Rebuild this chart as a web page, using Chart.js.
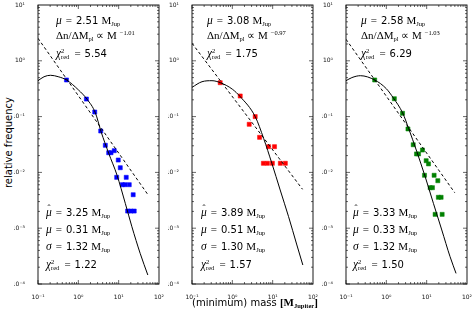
<!DOCTYPE html>
<html>
<head>
<meta charset="UTF-8">
<title>mass distribution</title>
<script src="https://cdn.jsdelivr.net/npm/chart.js"></script>
<style>
  body { margin: 0; width: 474px; height: 311px; position: relative; overflow: hidden; background: #fff; font-family: 'DejaVu Sans', sans-serif; color: #000; }
  canvas { position: absolute; top: 0; }
  .ln { position: absolute; height: 12px; line-height: 12px; font-size: 10px; white-space: nowrap; }
  .s { font-family: 'Liberation Serif', serif; font-size: 11px; }
  .it { font-family: 'Liberation Serif', serif; font-style: italic; font-size: 11.5px; }
  .hat { position: relative; display: inline-block; }
  .hat > span { position: absolute; left: 1.5px; top: -4px; font-size: 9px; font-style: normal; }
  sub, sup { font-size: 6.5px; line-height: 0; }
  sub { vertical-align: -2px; }
  sup { vertical-align: 4px; }
  .st { display: inline-flex; flex-direction: column; vertical-align: middle; font-family: 'Liberation Serif', serif; font-size: 6.5px; line-height: 6px; margin-right: 1px; }
  .eq { margin: 0 4px; font-family: 'Liberation Serif', serif; font-size: 11px; }
  .title { position: absolute; font-size: 10px; white-space: nowrap; }
</style>
</head>
<body>
<canvas id="p1"></canvas>
<canvas id="p2"></canvas>
<canvas id="p3"></canvas>
<div class="title" style="left:-38px;top:137px;transform:rotate(-90deg);width:92px;text-align:center">relative frequency</div>
<div class="title" style="left:192px;top:296px">(minimum) mass <span class="s" style="font-weight:bold">[M<sub>Jupiter</sub>]</span></div>
<div id="notes"></div>
<script>
// axes
const massTicks = [0.1, 1, 10, 100];
const freqTicks = [1e-4, 1e-3, 1e-2, 1e-1, 1, 10];

// panel 1 (blue)
const p1Mass = [0.508, 1.585, 2.55, 3.59, 4.67, 5.66, 6.46, 7.78, 9.77, 10.96, 8.93, 15.4, 12.3, 14.3, 18.3, 22.9, 16.7, 20.1, 24.3];
const p1Freq = [0.453, 0.2065, 0.1208, 0.0552, 0.0306, 0.0225, 0.0225, 0.0245, 0.01667, 0.01213, 0.00816, 0.00816, 0.00602, 0.00602, 0.00602, 0.00398, 0.00203, 0.00203, 0.00203];
const p1CurveMass = [0.1, 0.141, 0.205, 0.316, 0.508, 1.0, 1.65, 2.64, 3.66, 5.66, 9.08, 14.6, 21.3, 34.1, 52.8];
const p1CurveFreq = [0.44, 0.518, 0.55, 0.519, 0.453, 0.302, 0.204, 0.117, 0.0537, 0.022, 0.00897, 0.00279, 0.00106, 0.000355, 0.000145];
const p1PowMass = [0.1, 53.8];
const p1PowFreq = [2.53, 0.00394];

// panel 2 (red)
const p2Mass = [0.50, 1.57, 2.62, 3.69, 4.74, 7.92, 11.1, 5.89, 7.40, 9.84, 15.5, 20.6];
const p2Freq = [0.405, 0.234, 0.0728, 0.1, 0.0425, 0.0289, 0.0289, 0.01456, 0.01456, 0.01456, 0.01456, 0.01456];
const p2CurveMass = [0.1, 0.177, 0.313, 0.501, 1.0, 1.57, 3.69, 5.96, 9.55, 15.35, 24.8, 39.8, 56.0];
const p2CurveFreq = [0.335, 0.422, 0.44, 0.406, 0.31, 0.2275, 0.1, 0.0408, 0.01456, 0.00484, 0.00161, 0.0005, 0.000219];
const p2PowMass = [0.1, 55];
const p2PowFreq = [2.06, 0.00498];

// panel 3 (green)
const p3Mass = [0.514, 1.58, 2.52, 3.44, 4.64, 5.6, 6.28, 7.87, 9.72, 11.1, 8.83, 15.3, 18.9, 12.2, 13.9, 19.5, 22.8, 16.2, 24.2];
const p3Freq = [0.453, 0.209, 0.1146, 0.06, 0.0313, 0.0214, 0.0214, 0.0252, 0.0162, 0.0142, 0.00888, 0.00888, 0.0071, 0.00532, 0.00532, 0.00358, 0.00358, 0.00177, 0.00177];
const p3CurveMass = [0.1, 0.14, 0.228, 0.514, 1.0, 1.51, 2.52, 3.56, 5.71, 9.18, 14.7, 23.7, 38.0, 53.5];
const p3CurveFreq = [0.44, 0.50, 0.541, 0.453, 0.316, 0.213, 0.1175, 0.0617, 0.0235, 0.00838, 0.00279, 0.000929, 0.000309, 0.000155];
const p3PowMass = [0.1, 49.6];
const p3PowFreq = [2.43, 0.00433];

// fit labels
const topMu = ['2.51', '3.08', '2.58'];
const slopes = ['1.01', '0.97', '1.03'];
const chiTop = ['5.54', '1.75', '6.29'];
const muHat = ['3.25', '3.89', '3.33'];
const muLn = ['0.31', '0.51', '0.33'];
const sigmas = ['1.32', '1.30', '1.32'];
const chiBot = ['1.22', '1.57', '1.50'];

const panelLeft = [38, 192, 346];
const panelW = 121;
const yAxisW = 24;
const topTextX = [56, 207, 361];
const botTextX = [46, 201, 353];

const sup = { '-': '⁻', '0': '⁰', '1': '¹', '2': '²', '3': '³', '4': '⁴' };
const fmt = v => '10' + String(Math.round(Math.log10(v))).split('').map(c => sup[c]).join('');
const pts = (xs, ys) => xs.map((x, i) => ({ x, y: ys[i] }));

const frameTicks = {
  id: 'frameTicks',
  afterDraw(chart) {
    const { ctx, chartArea: a, scales: { x, y } } = chart;
    ctx.save();
    ctx.strokeStyle = '#000';
    ctx.lineWidth = 0.6;
    ctx.beginPath();
    for (let e = -1; e < 2; e++) {
      for (let k = 1; k < 10; k++) {
        const px = x.getPixelForValue(k * Math.pow(10, e));
        const len = k === 1 ? 4 : 2;
        ctx.moveTo(px, a.top); ctx.lineTo(px, a.top + len);
        ctx.moveTo(px, a.bottom); ctx.lineTo(px, a.bottom - len);
      }
    }
    for (let e = -4; e < 1; e++) {
      for (let k = 1; k < 10; k++) {
        const py = y.getPixelForValue(k * Math.pow(10, e));
        const len = k === 1 ? 4 : 2;
        ctx.moveTo(a.left, py); ctx.lineTo(a.left + len, py);
        ctx.moveTo(a.right, py); ctx.lineTo(a.right - len, py);
      }
    }
    ctx.stroke();
    ctx.lineWidth = 0.9;
    ctx.strokeRect(a.left, a.top, a.right - a.left, a.bottom - a.top);
    ctx.restore();
  }
};

function makePanel(i, mass, freq, cM, cF, pM, pF, color) {
  const cv = document.getElementById('p' + (i + 1));
  cv.width = yAxisW + panelW + 9;
  cv.height = 311;
  cv.style.left = (panelLeft[i] - yAxisW) + 'px';
  const tickFont = { family: 'DejaVu Sans', size: 6 };
  new Chart(cv, {
    type: 'line',
    data: {
      datasets: [
        { data: pts(cM, cF), borderColor: '#000', borderWidth: 1, pointRadius: 0, cubicInterpolationMode: 'monotone', fill: false },
        { data: pts(pM, pF), borderColor: '#000', borderWidth: 1, borderDash: [3, 2.5], pointRadius: 0, fill: false },
        { data: pts(mass, freq), showLine: false, pointStyle: 'rect', pointRadius: 2.9, backgroundColor: color, borderColor: color, borderWidth: 0.5 }
      ]
    },
    options: {
      responsive: false,
      animation: false,
      events: [],
      layout: { padding: { top: 5, right: 9, left: 0, bottom: 0 } },
      plugins: { legend: { display: false }, tooltip: { enabled: false } },
      scales: {
        x: {
          type: 'logarithmic', min: 0.1, max: 100,
          grid: { display: false }, border: { display: false },
          afterBuildTicks: s => { s.ticks = massTicks.map(v => ({ value: v })); },
          ticks: { callback: fmt, font: tickFont, color: '#111', padding: 2, maxRotation: 0, autoSkip: false },
          afterFit: s => { s.height = 27; s.paddingLeft = 0; s.paddingRight = 0; }
        },
        y: {
          type: 'logarithmic', min: 1e-4, max: 10,
          grid: { display: false }, border: { display: false },
          afterBuildTicks: s => { s.ticks = freqTicks.map(v => ({ value: v })); },
          ticks: { callback: fmt, font: tickFont, color: '#111', padding: 5, autoSkip: false },
          afterFit: s => { s.width = yAxisW; s.paddingTop = 0; s.paddingBottom = 0; }
        }
      }
    },
    plugins: [frameTicks]
  });
}

makePanel(0, p1Mass, p1Freq, p1CurveMass, p1CurveFreq, p1PowMass, p1PowFreq, '#0000ff');
makePanel(1, p2Mass, p2Freq, p2CurveMass, p2CurveFreq, p2PowMass, p2PowFreq, '#ff0000');
makePanel(2, p3Mass, p3Freq, p3CurveMass, p3CurveFreq, p3PowMass, p3PowFreq, '#008000');

const eq = '<span class="eq">=</span>';
const mj = '<span class="s">M<sub>Jup</sub></span>';
let html = '';
for (let i = 0; i < 3; i++) {
  const tx = topTextX[i], bx = botTextX[i];
  html += `<div class="ln" style="left:${tx}px;top:14px"><span class="it">μ</span>${eq}${topMu[i]} ${mj}</div>`;
  html += `<div class="ln" style="left:${tx}px;top:29px"><span class="s">Δn/ΔM<sub>pl</sub> ∝ M<sup style="margin-left:3px">−${slopes[i]}</sup></span></div>`;
  html += `<div class="ln" style="left:${tx}px;top:47px"><span class="it">χ</span><span class="st"><span>2</span><span>red</span></span>${eq}${chiTop[i]}</div>`;
  html += `<div class="ln" style="left:${bx}px;top:206px"><span class="it hat">μ<span>ˆ</span></span>${eq}${muHat[i]} ${mj}</div>`;
  html += `<div class="ln" style="left:${bx}px;top:223px"><span class="it">μ</span>${eq}${muLn[i]} ${mj}</div>`;
  html += `<div class="ln" style="left:${bx}px;top:240px"><span class="it">σ</span>${eq}${sigmas[i]} ${mj}</div>`;
  html += `<div class="ln" style="left:${bx}px;top:258px"><span class="it">χ</span><span class="st"><span>2</span><span>red</span></span>${eq}${chiBot[i]}</div>`;
}
document.getElementById('notes').innerHTML = html;
</script>
</body>
</html>
